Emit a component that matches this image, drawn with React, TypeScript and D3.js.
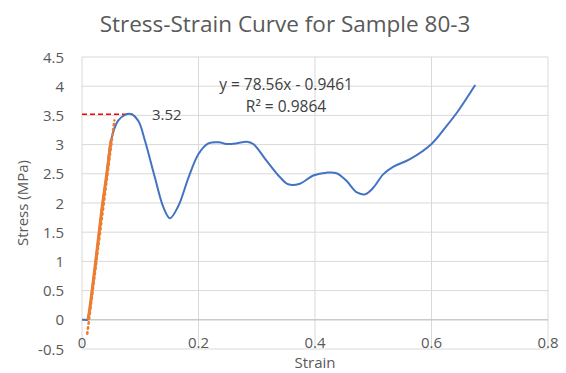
import React from "react";
import * as d3 from "d3";

const strain = [0, 0.005, 0.0098, 0.011, 0.0223, 0.0338, 0.0424, 0.0498, 0.062, 0.074, 0.085, 0.097, 0.108, 0.125, 0.14, 0.151, 0.165, 0.183, 0.2, 0.217, 0.235, 0.248, 0.265, 0.283, 0.294, 0.317, 0.34, 0.354, 0.374, 0.397, 0.42, 0.437, 0.454, 0.472, 0.486, 0.5, 0.517, 0.534, 0.563, 0.6, 0.626, 0.646, 0.675];
const stress = [0, 0, 0, 0.04, 0.9, 1.87, 2.49, 3.07, 3.41, 3.51, 3.52, 3.4, 3.07, 2.44, 1.92, 1.74, 1.94, 2.44, 2.84, 3.02, 3.04, 3.01, 3.02, 3.05, 3.01, 2.72, 2.44, 2.32, 2.33, 2.47, 2.52, 2.51, 2.38, 2.18, 2.15, 2.26, 2.49, 2.62, 2.75, 3.01, 3.32, 3.58, 4.02];
// linear (elastic) region highlighted in orange
const linearStrain = [0.0098, 0.011, 0.0223, 0.0338, 0.0424, 0.0498];
const linearStress = [0, 0.04, 0.9, 1.87, 2.49, 3.07];
const trendSlope = 78.56;
const trendIntercept = -0.9461;
const trendRange = [0.009, 0.0555];
const peakStress = 3.52;
const peakStrain = 0.087;
const xTicks = [0, 0.2, 0.4, 0.6, 0.8];
const yTicks = [-0.5, 0, 0.5, 1, 1.5, 2, 2.5, 3, 3.5, 4, 4.5];

const W = 566, H = 373;
const M = { left: 82, right: 18, top: 57, bottom: 24 };
const FONT = "'Open Sans', sans-serif";
const TXT = "#595959";

export default function App() {
  const x = d3.scaleLinear().domain([0, 0.8]).range([M.left, W - M.right]);
  const y = d3.scaleLinear().domain([-0.5, 4.5]).range([H - M.bottom, M.top]);
  const line = d3.line<[number, number]>().x(d => x(d[0])).y(d => y(d[1])).curve(d3.curveCatmullRom.alpha(0.5));
  const main: [number, number][] = strain.map((s, i) => [s, stress[i]]);
  const lin: [number, number][] = linearStrain.map((s, i) => [s, linearStress[i]]);
  const trend: [number, number][] = trendRange.map(s => [s, trendSlope * s + trendIntercept]);
  const lineLin = d3.line<[number, number]>().x(d => x(d[0])).y(d => y(d[1])).curve(d3.curveCatmullRom.alpha(0.5));

  return (
    <svg width={W} height={H} style={{ position: "absolute", left: 0, top: 0, background: "#fff" }} fontFamily={FONT}>
      <rect width={W} height={H} fill="#fff" />
      <text x={285} y={32} textAnchor="middle" fontSize={22.5} fill={TXT}>Stress-Strain Curve for Sample 80-3</text>
      {yTicks.map(t => (
        <line key={"gy" + t} x1={x(0)} x2={x(0.8)} y1={y(t)} y2={y(t)} stroke="#d9d9d9" strokeWidth={1} />
      ))}
      {xTicks.map(t => (
        <line key={"gx" + t} x1={x(t)} x2={x(t)} y1={y(-0.5)} y2={y(4.5)} stroke="#d9d9d9" strokeWidth={1} />
      ))}
      <line x1={x(0)} x2={x(0.8)} y1={y(0)} y2={y(0)} stroke="#bfbfbf" strokeWidth={1} />
      {yTicks.map(t => (
        <text key={"ly" + t} x={64} y={y(t) + 5.5} textAnchor="end" fontSize={15} fill={TXT}>{String(t)}</text>
      ))}
      {xTicks.map(t => (
        <text key={"lx" + t} x={x(t)} y={y(0) + 28} textAnchor="middle" fontSize={15} fill={TXT}>{String(t)}</text>
      ))}
      <text x={x(0.4)} y={368} textAnchor="middle" fontSize={15} fill={TXT}>Strain</text>
      <text transform={`translate(28,${(M.top + H - M.bottom) / 2}) rotate(-90)`} textAnchor="middle" fontSize={15} fill={TXT}>Stress (MPa)</text>
      <line x1={x(0)} x2={x(peakStrain)} y1={y(peakStress)} y2={y(peakStress)} stroke="#ff0000" strokeWidth={1.5} strokeDasharray="5,3" />
      <path d={line(main) || ""} fill="none" stroke="#4472c4" strokeWidth={2} />
      <path d={lineLin(lin) || ""} fill="none" stroke="#ed7d31" strokeWidth={3} />
      <path d={lineLin(trend) || ""} fill="none" stroke="#ed7d31" strokeWidth={2.5} strokeDasharray="1.5,3.5" strokeLinecap="round" />
      <text x={152} y={y(peakStress) + 5.5} fontSize={15} fill="#404040">3.52</text>
      <text x={286} y={90} textAnchor="middle" fontSize={15.5} fill="#404040">y = 78.56x - 0.9461</text>
      <text x={286} y={112} textAnchor="middle" fontSize={15.5} fill="#404040">R² = 0.9864</text>
    </svg>
  );
}
